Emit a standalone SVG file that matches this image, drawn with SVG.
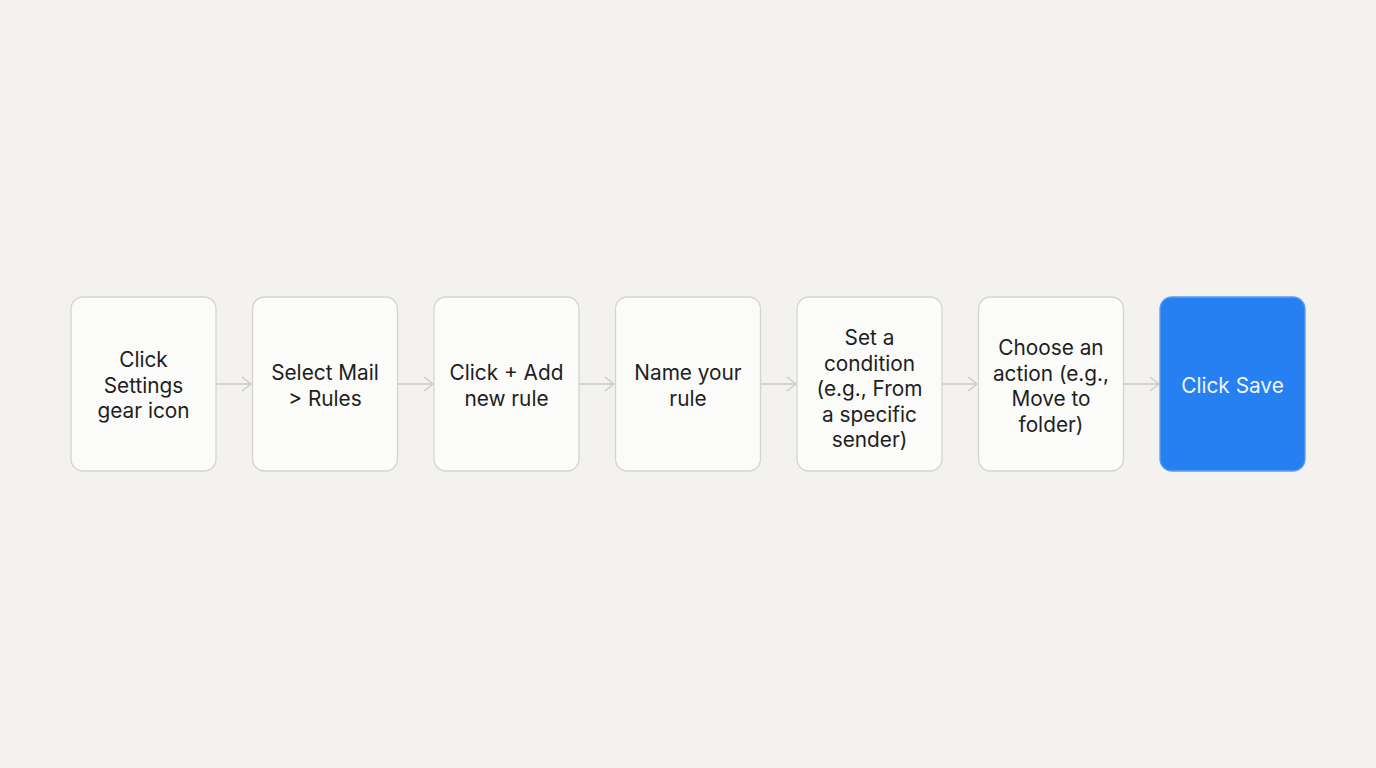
<svg xmlns="http://www.w3.org/2000/svg" width="1376" height="768" viewBox="0 0 1376 768">
<defs>
<marker id="arr" viewBox="0 0 12 16" refX="11" refY="8" markerWidth="12" markerHeight="16" markerUnits="userSpaceOnUse" orient="auto">
<path d="M2,1 L11,8 L2,15" fill="none" stroke="#c9c8c3" stroke-width="1.3"/>
</marker>
<style>
.box{fill:#fbfbf9;stroke:#d5d4cf;stroke-width:1.3}
.blue{fill:#2680f2;stroke:#5a9ef0;stroke-width:1.3}
.t{font-family:Inter,"Liberation Sans",sans-serif;font-size:20.8px;fill:#1e1e1e;text-anchor:middle}
.tw{font-family:Inter,"Liberation Sans",sans-serif;font-size:20.8px;fill:#eef5ff;text-anchor:middle}
.c{stroke:#c9c8c3;stroke-width:1.3;fill:none}
</style>
</defs>
<rect width="1376" height="768" fill="#f3f2ee"/>
<g id="connectors">
<line class="c" x1="216" y1="384" x2="251" y2="384" marker-end="url(#arr)"/>
<line class="c" x1="398" y1="384" x2="433" y2="384" marker-end="url(#arr)"/>
<line class="c" x1="579" y1="384" x2="614" y2="384" marker-end="url(#arr)"/>
<line class="c" x1="761" y1="384" x2="796" y2="384" marker-end="url(#arr)"/>
<line class="c" x1="942" y1="384" x2="977" y2="384" marker-end="url(#arr)"/>
<line class="c" x1="1124" y1="384" x2="1159" y2="384" marker-end="url(#arr)"/>
</g>
<g id="n1"><rect class="box" x="71" y="297" width="145" height="174" rx="12"/>
<text class="t"><tspan x="143.5" y="367">Click</tspan><tspan x="143.5" y="392.5">Settings</tspan><tspan x="143.5" y="418">gear icon</tspan></text></g>
<g id="n2"><rect class="box" x="252.5" y="297" width="145" height="174" rx="12"/>
<text class="t"><tspan x="325" y="380">Select Mail</tspan><tspan x="325" y="405.5">&gt; Rules</tspan></text></g>
<g id="n3"><rect class="box" x="434" y="297" width="145" height="174" rx="12"/>
<text class="t"><tspan x="506.5" y="380">Click + Add</tspan><tspan x="506.5" y="405.5">new rule</tspan></text></g>
<g id="n4"><rect class="box" x="615.5" y="297" width="145" height="174" rx="12"/>
<text class="t"><tspan x="688" y="380">Name your</tspan><tspan x="688" y="405.5">rule</tspan></text></g>
<g id="n5"><rect class="box" x="797" y="297" width="145" height="174" rx="12"/>
<text class="t"><tspan x="869.5" y="345">Set a</tspan><tspan x="869.5" y="370.5">condition</tspan><tspan x="869.5" y="396">(e.g., From</tspan><tspan x="869.5" y="421.5">a specific</tspan><tspan x="869.5" y="447">sender)</tspan></text></g>
<g id="n6"><rect class="box" x="978.5" y="297" width="145" height="174" rx="12"/>
<text class="t"><tspan x="1051" y="355">Choose an</tspan><tspan x="1051" y="380.5">action (e.g.,</tspan><tspan x="1051" y="406">Move to</tspan><tspan x="1051" y="431.5">folder)</tspan></text></g>
<g id="n7"><rect class="blue" x="1160" y="297" width="145" height="174" rx="12"/>
<text class="tw"><tspan x="1232.5" y="392.5">Click Save</tspan></text></g>
</svg>
